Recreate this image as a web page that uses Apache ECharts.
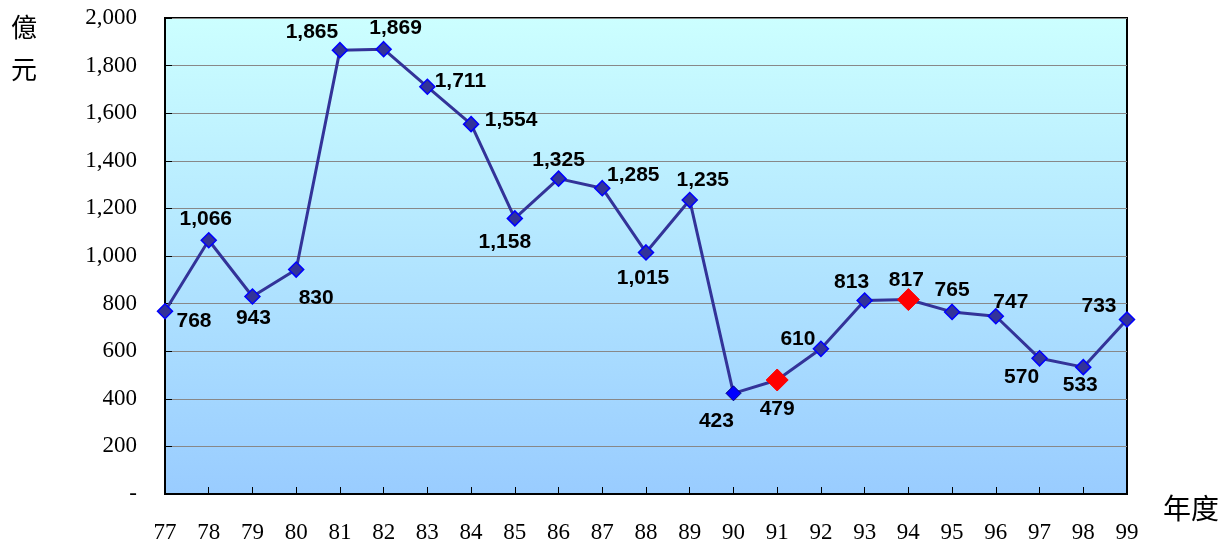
<!DOCTYPE html>
<html>
<head>
<meta charset="utf-8">
<script src="https://cdn.jsdelivr.net/npm/echarts@6/dist/echarts.min.js"></script>
<style>
html,body{margin:0;padding:0;background:#fff;}
#c{width:1231px;height:545px;}
</style>
</head>
<body>
<div id="c"></div>
<script>
// ---- data ----
const years = ['77','78','79','80','81','82','83','84','85','86','87','88','89','90','91','92','93','94','95','96','97','98','99'];
const values = [768,1066,830,943,1865,1869,1711,1554,1158,1325,1285,1015,1235,423,479,610,813,817,765,747,570,533,733];
const labelTexts = ['768','1,066','943','830','1,865','1,869','1,711','1,554','1,158','1,325','1,285','1,015','1,235','423','479','610','813','817','765','747','570','533','733'];
const yTicks = [0,200,400,600,800,1000,1200,1400,1600,1800,2000];
const highlightRed = ['91','94'];
const highlightBlue = ['90'];

// ---- label placement (style) ----
const labelOffsets = [
  [29,10],[-3,-21],[1,22],[20,29],[-28,-18],[12,-21],[33,-6],[40,-4],
  [-10,24],[0,-18],[31,-13],[-3,26],[13,-20],[-17,28],[0,29],[-23,-10],
  [-13,-18],[-2,-19],[0,-22],[15,-14],[-18,19],[-3,18],[-28,-13]
];

const data = values.map((v,i)=>{
  const item = {value:v, label:{offset:labelOffsets[i], formatter:labelTexts[i]}};
  if (highlightRed.includes(years[i])) {
    item.symbolSize = 22;
    item.itemStyle = {color:'#ff0000', borderColor:'#ff0000', borderWidth:1};
  } else if (highlightBlue.includes(years[i])) {
    item.itemStyle = {color:'#0000ff', borderColor:'#000080', borderWidth:1};
  }
  return item;
});

const chart = echarts.init(document.getElementById('c'), null, {renderer:'canvas'});
chart.setOption({
  animation:false,
  grid:{left:165, right:104, top:18, bottom:51, show:true, borderColor:'#000', borderWidth:2,
    backgroundColor:{type:'linear',x:0,y:0,x2:0,y2:1,colorStops:[{offset:0,color:'#ccffff'},{offset:1,color:'#99ccff'}]}},
  xAxis:{
    type:'category', data:years, boundaryGap:false,
    axisLine:{lineStyle:{color:'#000',width:2}},
    axisTick:{inside:true,length:7,lineStyle:{color:'#000',width:1}},
    axisLabel:{margin:27,color:'#000',fontFamily:'Liberation Serif',fontSize:23},
    splitLine:{show:false}
  },
  yAxis:{
    type:'value', min:yTicks[0], max:yTicks[yTicks.length-1], interval:200,
    axisLine:{show:true,lineStyle:{color:'#000',width:2}},
    axisTick:{show:true,inside:true,length:7,lineStyle:{color:'#000',width:1}},
    axisLabel:{margin:28,color:'#000',fontFamily:'Liberation Serif',fontSize:23,
      formatter:v=> v===0 ? '-' : v.toLocaleString('en-US')},
    splitLine:{show:true,lineStyle:{color:'#888',width:1}}
  },
  graphic:[
    {type:'text',left:11,top:14,style:{text:'億',font:'26px "Noto Sans CJK TC"',fill:'#000'}},
    {type:'text',left:11,top:56,style:{text:'元',font:'26px "Noto Sans CJK TC"',fill:'#000'}},
    {type:'text',left:1163,top:494,style:{text:'年度',font:'28px "Noto Sans CJK TC"',fill:'#000'}}
  ],
  series:[{
    type:'line', data:data,
    lineStyle:{color:'#333399',width:3},
    symbol:'diamond', symbolSize:15,
    itemStyle:{color:'#333399',borderColor:'#0000ff',borderWidth:1.5},
    label:{show:true,position:'inside',align:'center',verticalAlign:'middle',
      color:'#000',fontFamily:'Liberation Sans',fontWeight:'bold',fontSize:21}
  }]
});
</script>
</body>
</html>
